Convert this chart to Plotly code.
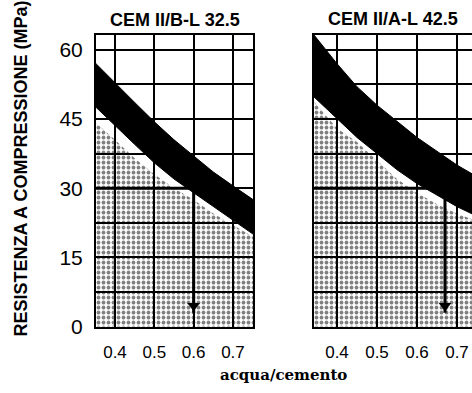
import plotly.graph_objects as go

# water/cement ratio sample points
wc = [0.34, 0.40, 0.45, 0.50, 0.55, 0.60, 0.65, 0.70, 0.76]

# CEM II/B-L 32.5
band_top_325 = [58.0, 52.8, 48.6, 44.4, 40.5, 37.0, 33.5, 30.5, 27.0]
band_bot_325 = [48.5, 43.5, 39.5, 35.5, 32.0, 29.0, 26.0, 23.0, 19.5]
stipple_325 = [45.0, 40.5, 36.5, 33.0, 30.0, 27.5, 24.5, 22.0, 19.0]

# CEM II/A-L 42.5
band_top_425 = [63.5, 57.0, 52.0, 48.0, 44.5, 41.0, 38.0, 35.0, 32.0]
band_bot_425 = [50.0, 45.0, 41.0, 37.5, 34.0, 31.0, 28.5, 26.0, 23.5]
stipple_425 = [49.0, 43.0, 40.0, 36.0, 32.0, 29.0, 26.5, 24.5, 22.5]

# reading example: 30 MPa -> w/c
read_level = 30
read_wc_325 = 0.60
read_wc_425 = 0.67

x_ticks = [0.4, 0.5, 0.6, 0.7]
x_ticktext = ["0.4", "0.5", "0.6", "0.7"]
y_ticks = [0, 15, 30, 45, 60]

titles = ["CEM II/B-L 32.5", "CEM II/A-L 42.5"]
y_title = "RESISTENZA A COMPRESSIONE (MPa)"
x_title = "acqua/cemento"

W, H = 472, 393
FONT = "Liberation Sans"

fig = go.Figure()

panels = [
    ("x", "y", band_top_325, band_bot_325, stipple_325, read_wc_325),
    ("x2", "y2", band_top_425, band_bot_425, stipple_425, read_wc_425),
]
for xa, ya, top, bot, stip, rwc in panels:
    fig.add_trace(go.Scatter(
        x=wc, y=stip, xaxis=xa, yaxis=ya, mode="lines",
        line=dict(width=0, color="black"), fill="tozeroy",
        fillcolor="rgba(0,0,0,0)",
        fillpattern=dict(shape=".", fgcolor="black", bgcolor="rgba(0,0,0,0)",
                         size=5, solidity=0.45),
        hoverinfo="skip"))
    fig.add_trace(go.Scatter(
        x=[wc[0], rwc], y=[read_level, read_level], xaxis=xa, yaxis=ya,
        mode="lines", line=dict(width=3, color="black"), hoverinfo="skip"))
    fig.add_trace(go.Scatter(
        x=[rwc, rwc], y=[read_level, 3], xaxis=xa, yaxis=ya,
        mode="lines", line=dict(width=3, color="black"), hoverinfo="skip"))
    fig.add_trace(go.Scatter(
        x=[rwc], y=[4.5], xaxis=xa, yaxis=ya, mode="markers",
        marker=dict(symbol="triangle-down", size=11, color="black",
                    line=dict(width=0)),
        hoverinfo="skip"))
    fig.add_trace(go.Scatter(
        x=wc, y=top, xaxis=xa, yaxis=ya, mode="lines",
        line=dict(width=1, color="black"), hoverinfo="skip"))
    fig.add_trace(go.Scatter(
        x=wc, y=bot, xaxis=xa, yaxis=ya, mode="lines",
        line=dict(width=1, color="black"), fill="tonexty",
        fillcolor="black", hoverinfo="skip"))

ydom = [1 - 336 / H, 1 - 36 / H]
common_x = dict(
    tickvals=x_ticks, ticktext=x_ticktext, showgrid=True, gridcolor="black",
    gridwidth=2, showline=True, linecolor="black", linewidth=2, mirror=True,
    zeroline=False, ticks="", tickfont=dict(family=FONT, size=17, color="black"),
    ticklabelstandoff=8,
)
common_y = dict(
    range=[-0.2, 63.2], domain=ydom, tickvals=y_ticks, showgrid=True,
    gridcolor="black", gridwidth=2, zeroline=False, ticks="",
    minor=dict(dtick=7.5, tick0=0, showgrid=True, gridcolor="black", gridwidth=2),
    showline=True, linecolor="black", linewidth=2,
)

fig.update_layout(
    width=W, height=H, margin=dict(l=0, r=0, t=0, b=0),
    paper_bgcolor="white", plot_bgcolor="white", showlegend=False,
    xaxis=dict(domain=[96 / W, 253 / W], range=[0.3517, 0.7509], anchor="y", **common_x),
    xaxis2=dict(domain=[314 / W, 1.0], range=[0.3425, 0.7375], anchor="y2", **common_x),
    yaxis=dict(anchor="x", mirror=True, showticklabels=True,
               tickfont=dict(family=FONT, size=21, color="black"),
               ticklabelstandoff=7, **common_y),
    yaxis2=dict(anchor="x2", mirror=False, showticklabels=False, **common_y),
    annotations=[
        dict(text="<b>" + titles[0] + "</b>", x=175 / W, y=1 - 21 / H,
             xref="paper", yref="paper", showarrow=False,
             font=dict(family=FONT, size=18, color="black"),
             xanchor="center", yanchor="middle"),
        dict(text="<b>" + titles[1] + "</b>", x=393 / W, y=1 - 20 / H,
             xref="paper", yref="paper", showarrow=False,
             font=dict(family=FONT, size=18, color="black"),
             xanchor="center", yanchor="middle"),
        dict(text="<b>" + y_title + "</b>", x=21 / W, y=1 - 173 / H,
             xref="paper", yref="paper", showarrow=False, textangle=-90,
             font=dict(family=FONT, size=18, color="black"),
             xanchor="center", yanchor="middle"),
        dict(text="<b>" + x_title + "</b>", x=283 / W, y=1 - 385 / H,
             xref="paper", yref="paper", showarrow=False,
             font=dict(family="DejaVu Serif", size=15, color="black"),
             xanchor="center", yanchor="middle"),
    ],
)

fig.write_html("out.html", config={"displayModeBar": False},
               post_script="document.body.style.margin='0px';")
